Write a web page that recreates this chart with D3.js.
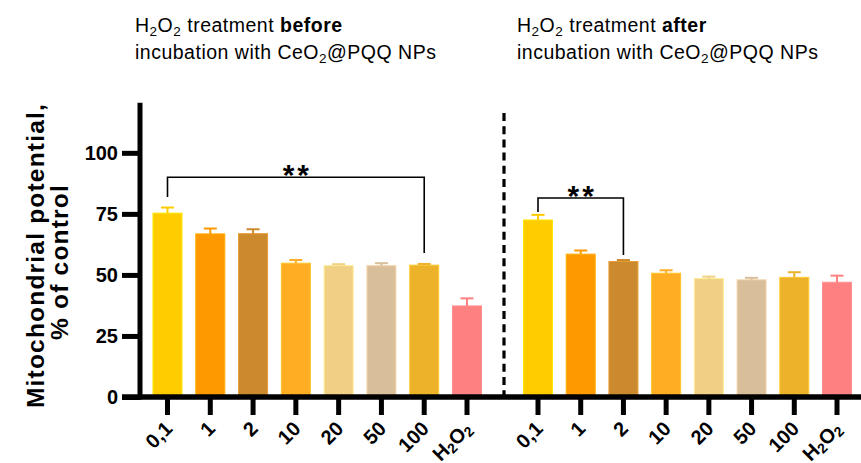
<!DOCTYPE html>
<html>
<head>
<meta charset="utf-8">
<script src="https://cdn.jsdelivr.net/npm/d3@7"></script>
<style>
  html, body { margin: 0; padding: 0; background: #fff; }
  svg { display: block; font-family: "Liberation Sans", Arial, sans-serif; }
</style>
</head>
<body>
<svg id="chart" width="861" height="463"></svg>
<script>
// ---- data ----
const categories = ["0,1", "1", "2", "10", "20", "50", "100", "H2O2"];
const beforeValues = [75.3, 66.8, 66.9, 54.8, 53.8, 53.8, 54.0, 37.3];
const beforeErrors = [2.3, 2.2, 1.8, 1.3, 0.6, 1.0, 0.5, 3.1];
const afterValues = [72.5, 58.5, 55.5, 50.7, 48.5, 48.0, 49.0, 47.0];
const afterErrors = [2.1, 1.5, 0.6, 1.2, 0.8, 0.8, 2.1, 2.7];
const barColors = ["#FFCC00", "#FF9900", "#CC8A2E", "#FFAD22", "#F0D085", "#D9BE9A", "#EBB22A", "#FF8080"];
const yTicks = [0, 25, 50, 75, 100];
// significance brackets: [from index, to index, level, left leg end, right leg end, label]
const beforeSig = [[0, 6, 90, 81.9, 59.0, "**"]];
const afterSig = [[0, 2, 81.5, 75.8, 58.2, "**"]];

// ---- layout ----
const svg = d3.select("#chart");
const y = d3.scaleLinear().domain([0, 120]).range([397, 104]);
const xBefore = d3.scalePoint().domain(categories).range([167.5, 467]);
const xAfter = d3.scalePoint().domain(categories).range([538, 837]);
const barW = 29;

function drawGroup(x, values, errors, sig) {
  const g = svg.append("g");
  // bars
  g.selectAll("rect").data(categories).join("rect")
    .attr("x", d => x(d) - barW / 2)
    .attr("width", barW)
    .attr("y", (d, i) => y(values[i]))
    .attr("height", (d, i) => y(0) - y(values[i]))
    .attr("fill", (d, i) => barColors[i])
    .attr("stroke", (d, i) => d3.color(barColors[i]).brighter(0.35))
    .attr("stroke-width", 1);
  // error bars
  categories.forEach((d, i) => {
    const cx = x(d), top = y(values[i] + errors[i]);
    g.append("line").attr("x1", cx).attr("x2", cx)
      .attr("y1", y(values[i])).attr("y2", top)
      .attr("stroke", barColors[i]).attr("stroke-width", 2);
    g.append("line").attr("x1", cx - 6.5).attr("x2", cx + 6.5)
      .attr("y1", top).attr("y2", top)
      .attr("stroke", barColors[i]).attr("stroke-width", 2);
  });
  // x ticks
  g.selectAll(".xt").data(categories).join("line")
    .attr("x1", d => x(d)).attr("x2", d => x(d))
    .attr("y1", 397).attr("y2", 415)
    .attr("stroke", "#000").attr("stroke-width", 5);
  // x labels
  categories.forEach(d => {
    const t = g.append("text")
      .attr("transform", `translate(${x(d) + 6},${430}) rotate(-45)`)
      .attr("text-anchor", "end")
      .attr("font-size", 20).attr("font-weight", "bold").attr("fill", "#000");
    if (d === "H2O2") {
      t.append("tspan").text("H");
      t.append("tspan").attr("font-size", 14).attr("dy", 3).text("2");
      t.append("tspan").attr("dy", -3).text("O");
      t.append("tspan").attr("font-size", 14).attr("dy", 3).text("2");
    } else {
      t.text(d);
    }
  });
  // significance
  sig.forEach(s => {
    const x1 = x(categories[s[0]]), x2 = x(categories[s[1]]);
    g.append("path")
      .attr("d", `M${x1},${y(s[3])}V${y(s[2])}H${x2}V${y(s[4])}`)
      .attr("fill", "none").attr("stroke", "#000").attr("stroke-width", 1.6);
    g.append("text")
      .attr("x", (x1 + x2) / 2 + 1.5).attr("y", y(s[2]) + 8)
      .attr("text-anchor", "middle")
      .attr("font-size", 30).attr("font-weight", "bold")
      .attr("letter-spacing", 3)
      .text(s[5]);
  });
}

drawGroup(xBefore, beforeValues, beforeErrors, beforeSig);
drawGroup(xAfter, afterValues, afterErrors, afterSig);

// y axis
const yAxis = d3.axisLeft(y).tickValues(yTicks).tickSize(18).tickSizeOuter(0).tickPadding(4);
const ya = svg.append("g").attr("transform", "translate(140,0)").call(yAxis);
ya.select(".domain").attr("stroke-width", 5).attr("d", `M0,${y(120.5)}V${y(0) + 2.5}`);
ya.selectAll(".tick line").attr("stroke-width", 5);
ya.selectAll(".tick text")
  .attr("font-size", 20).attr("font-weight", "bold")
  .attr("font-family", "Liberation Sans, Arial, sans-serif")
  .attr("fill", "#000").attr("letter-spacing", 0);

// x axis line
svg.append("line").attr("x1", 122).attr("x2", 861)
  .attr("y1", y(0)).attr("y2", y(0))
  .attr("stroke", "#000").attr("stroke-width", 5.5);

// dashed separator
svg.append("line").attr("x1", 504).attr("x2", 504)
  .attr("y1", 113).attr("y2", y(0))
  .attr("stroke", "#000").attr("stroke-width", 3.2)
  .attr("stroke-dasharray", "8,5.2");

// y axis label
const yl = svg.append("text")
  .attr("font-size", 24.5).attr("font-weight", "bold").attr("fill", "#000")
  .attr("text-anchor", "middle").attr("letter-spacing", 1.2);
yl.append("tspan").attr("x", -255.5).attr("y", 44).text("Mitochondrial potential,");
yl.append("tspan").attr("x", -262).attr("y", 68).text("% of control");
yl.attr("transform", "rotate(-90)");

// titles
function title(x0, word) {
  const t1 = svg.append("text").attr("x", x0).attr("y", 32)
    .attr("font-size", 19.5).attr("fill", "#000").attr("letter-spacing", 0.5);
  t1.append("tspan").text("H");
  t1.append("tspan").attr("font-size", 13.5).attr("dy", 4).text("2");
  t1.append("tspan").attr("dy", -4).text("O");
  t1.append("tspan").attr("font-size", 13.5).attr("dy", 4).text("2");
  t1.append("tspan").attr("dy", -4).text(" treatment ");
  t1.append("tspan").attr("font-weight", "bold").text(word);
  const t2 = svg.append("text").attr("x", x0).attr("y", 59)
    .attr("font-size", 19.5).attr("fill", "#000").attr("letter-spacing", 0.5);
  t2.append("tspan").text("incubation with CeO");
  t2.append("tspan").attr("font-size", 13.5).attr("dy", 4).text("2");
  t2.append("tspan").attr("dy", -4).text("@PQQ NPs");
}
title(135, "before");
title(517, "after");
</script>
</body>
</html>
